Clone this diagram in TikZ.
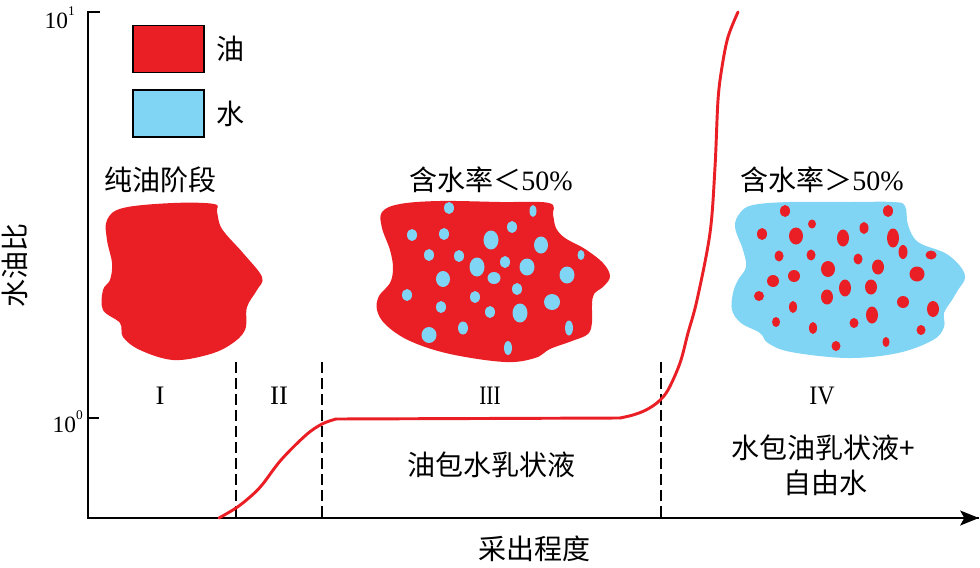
\documentclass[tikz,border=0pt]{standalone}
\usepackage{fontspec}
\newfontfamily\cjk{Noto Sans CJK SC}
\newfontfamily\numfont{Liberation Serif}
\usetikzlibrary{arrows.meta}
\definecolor{oilred}{RGB}{234,30,37}
\definecolor{waterblue}{RGB}{128,212,244}
\begin{document}
\begin{tikzpicture}[x=0.75pt,y=-0.75pt,
  cn/.style={font=\cjk\fontsize{21}{25}\selectfont, inner sep=0pt},
  rn/.style={font=\numfont\fontsize{20}{24}\selectfont, inner sep=0pt},
  ticklab/.style={font=\numfont\fontsize{17.5}{20}\selectfont, inner sep=0pt, anchor=east},
  axisline/.style={line width=2.2pt},
  divider/.style={line width=1.1pt, dash pattern=on 8pt off 4pt},
  curve/.style={line width=2.2pt, oilred, line cap=round},
  legendbox/.style={draw=black, line width=1.1pt, minimum width=53pt, minimum height=35pt, inner sep=0pt}
]
\useasboundingbox (0,0) rectangle (980,567);

% axes
\coordinate (ytop) at (88,12);
\coordinate (ytick) at (100,12);
\coordinate (origin) at (88,518);
\coordinate (xend) at (979,518);
\coordinate (tick0a) at (88,418);
\coordinate (tick0b) at (99,418);
\draw[axisline] (ytick) -- (ytop) -- (origin) -- (xend);
\draw[axisline, -{Stealth[length=14pt,width=11pt,inset=3pt]}] (origin) -- (xend);
\draw[axisline] (tick0a) -- (tick0b);
\node[ticklab] (l1) at (75,18) {10\raisebox{0.55em}{\fontsize{10}{12}\selectfont 1}};
\node[ticklab] (l0) at (83,422) {10\raisebox{0.55em}{\fontsize{10}{12}\selectfont 0}};

% axis titles
\node[cn, rotate=90] (ylab) at (15,265) {水油比};
\node[cn] (xlab) at (534,549) {采出程度};

% legend
\node[legendbox, fill=oilred] (leg1) at (168.5,49) {};
\node[legendbox, fill=waterblue] (leg2) at (168.5,113.5) {};
\node[cn, anchor=west] (leg1t) at (216,49) {油};
\node[cn, anchor=west] (leg2t) at (216,114) {水};

% stage titles
\node[cn] (t1) at (160,180) {纯油阶段};
\node[cn] (t2) at (491,180) {含水率＜{\numfont 50\%}};
\node[cn] (t3) at (822,180) {含水率＞{\numfont 50\%}};

% blob 1
\fill[oilred] plot[smooth cycle, tension=0.6] coordinates {
 (107,220) (123,208) (173,203) (214,204) (217,212) (222,229) (243,253) (262,277)
 (257,290) (247,307) (245,330) (230,345) (207,355) (173,360) (140,350) (123,337)
 (120,323) (103,310) (103,290) (110,280) (112,263) (107,240)};

% blob 2
\fill[oilred] plot[smooth cycle, tension=0.6] coordinates {
 (382,212) (400,204) (440,201) (500,202) (549,203) (553,215) (556,228) (565,238)
 (585,249) (603,263) (610,276) (604,286) (594,294) (592,305) (592,322) (588,334)
 (572,341) (550,349) (535,358) (505,362) (450,354) (410,341) (386,325) (377,310)
 (379,296) (390,283) (393,268) (390,250) (382,228)};
\foreach \px/\py/\ra/\rb in {
 449/208/5/6, 533/211/3.5/6, 412/235/5/6, 444/234/5/6, 512/227/5/6,
 491/240/7.5/9.5, 541/245/7/8.5, 429/255/5/6, 459/256/5/6, 581/255/3.5/5,
 477/267/7.5/9.5, 505/262/5/6, 527/267/7.5/8.5, 567/275/7.5/8.5, 443/279/7/8,
 494/278/6.5/6, 517/289/5/6, 407/295/5/6, 475/297/5/6, 441/307/5/6,
 552/302/8/8, 490/312/5/6, 520/313/7.5/9.5, 463/328/5/6.5, 429/335/7.5/8,
 569/328/4/7.5, 508/348/4/7}
 \fill[waterblue] (\px,\py) ellipse [x radius=\ra*0.75pt, y radius=\rb*0.75pt];

% blob 3
\fill[waterblue] plot[smooth cycle, tension=0.6] coordinates {
 (740,213) (753,205) (790,202) (850,202) (893,202) (905,206) (908,225) (918,242)
 (945,253) (960,266) (965,278) (958,290) (952,300) (944,313) (944,327) (933,340)
 (898,353) (848,358) (791,352) (768,343) (760,333) (741,323) (732,310) (733,293)
 (738,280) (746,267) (743,250) (735,227)};
\foreach \px/\py/\ra/\rb in {
 785/211/5/6, 888/211/5/6, 812/224/4/4.5, 762/234/5/6, 796/236/7/8.5,
 843/238/6/8.5, 864/228/4.5/6, 893/238/6/9.5, 903/252/4.5/7, 931/255/5.5/4.5,
 779/256/4.5/5.5, 811/255/4.5/5.5, 858/259/4.5/5.5, 828/269/7/8, 878/267/6/7.5,
 917/274/7.5/7.5, 773/281/6/6, 794/276/6/6, 845/288/6/8.5, 871/287/6/7.5,
 759/296/5/5, 827/297/6/7.5, 903/302/6/6, 933/309/6/8, 793/307/4/6,
 872/315/6/8.5, 776/322/4/5, 813/328/4/6, 854/323/4.5/5, 921/330/4.5/5,
 836/346/4.5/5, 886/342/3.5/5}
 \fill[oilred] (\px,\py) ellipse [x radius=\ra*0.75pt, y radius=\rb*0.75pt];

% dividers
\coordinate (d1t) at (236,362); \coordinate (d1b) at (236,518);
\coordinate (d2t) at (322,362); \coordinate (d2b) at (322,518);
\coordinate (d3t) at (661,362); \coordinate (d3b) at (661,518);
\draw[divider] (d1t) -- (d1b);
\draw[divider] (d2t) -- (d2b);
\draw[divider] (d3t) -- (d3b);

% roman numerals
\node[rn] (r1) at (160,396) {I};
\node[rn] (r2) at (279,396) {II};
\node[rn] (r3) at (490,396) {\scalebox{0.8}[1]{III}};
\node[rn] (r4) at (822,396) {\scalebox{0.9}[1]{IV}};

% region labels
\node[cn] (e1) at (491,465) {油包水乳状液};
\node[cn] (e2) at (823,448) {水包油乳状液+};
\node[cn] (e3) at (825,483) {自由水};

% curve
\draw[curve] plot[smooth, tension=0.55] coordinates {
 (219,518) (236,508) (250,497) (262,485) (281,460) (306,435) (322,424) (336,419)};
\draw[curve] (336,419) -- (620,418);
\draw[curve] plot[smooth, tension=0.55] coordinates {
 (620,418) (633,415) (646,410) (658,402) (668,390) (680,363) (688,333) (697,300)
 (710,233) (715,167) (718,100) (722,67) (728,37) (738,12)};
\end{tikzpicture}
\end{document}
